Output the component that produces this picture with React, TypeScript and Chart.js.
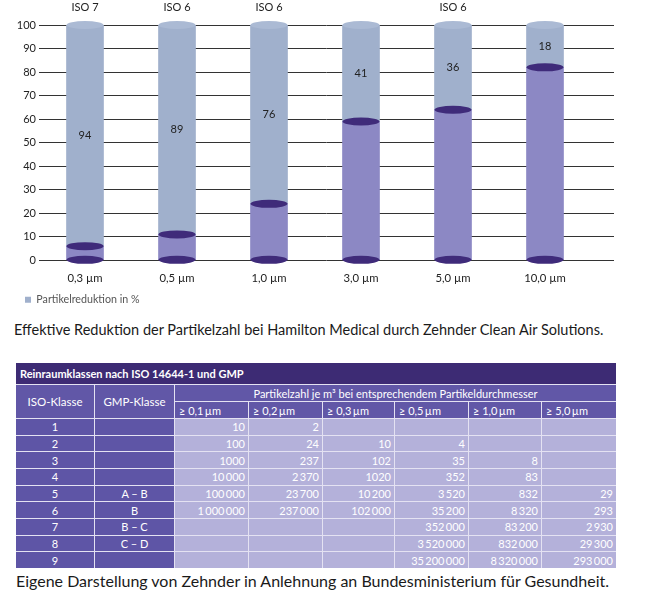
import React, { useEffect, useRef } from 'react';
import { Chart, registerables } from 'chart.js';

Chart.register(...registerables);

const categories = ['0,3 µm', '0,5 µm', '1,0 µm', '3,0 µm', '5,0 µm', '10,0 µm'];
const isoLabels = ['ISO 7', 'ISO 6', 'ISO 6', '', 'ISO 6', ''];
const reduction = [94, 89, 76, 41, 36, 18];
const remaining = [6, 11, 24, 59, 64, 82];
const legendLabel = 'Partikelreduktion in %';

const caption1 = 'Effektive Reduktion der Partikelzahl bei Hamilton Medical durch Zehnder Clean Air Solutions.';
const caption2 = 'Eigene Darstellung von Zehnder in Anlehnung an Bundesministerium für Gesundheit.';

const tableTitle = 'Reinraumklassen nach ISO 14644-1 und GMP';
const headIso = 'ISO-Klasse';
const headGmp = 'GMP-Klasse';
const headSpan = 'Partikelzahl je m³ bei entsprechendem Partikeldurchmesser';
const sizeHeaders = ['≥ 0,1\u2009µm', '≥ 0,2\u2009µm', '≥ 0,3\u2009µm', '≥ 0,5\u2009µm', '≥ 1,0\u2009µm', '≥ 5,0\u2009µm'];
const isoClasses = ['1', '2', '3', '4', '5', '6', '7', '8', '9'];
const gmpClasses = ['', '', '', '', 'A – B', 'B', 'B – C', 'C – D', ''];
const T = '\u2009';
const row1 = ['10', '2', '', '', '', ''];
const row2 = ['100', '24', '10', '4', '', ''];
const row3 = ['1000', '237', '102', '35', '8', ''];
const row4 = [`10${T}000`, `2${T}370`, '1020', '352', '83', ''];
const row5 = [`100${T}000`, `23${T}700`, `10${T}200`, `3${T}520`, '832', '29'];
const row6 = [`1${T}000${T}000`, `237${T}000`, `102${T}000`, `35${T}200`, `8${T}320`, '293'];
const row7 = ['', '', '', `352${T}000`, `83${T}200`, `2${T}930`];
const row8 = ['', '', '', `3${T}520${T}000`, `832${T}000`, `29${T}300`];
const row9 = ['', '', '', `35${T}200${T}000`, `8${T}320${T}000`, `293${T}000`];
const tableRows = [row1, row2, row3, row4, row5, row6, row7, row8, row9];

const BLUE = '#a0b0cc';
const BLUE_TOP = '#abbad4';
const PURPLE = '#8c88c4';
const DARK = '#3f2b7a';

const cylinderPlugin = {
  id: 'cylinder',
  afterDatasetsDraw(chart: any) {
    const ctx = chart.ctx;
    const m0 = chart.getDatasetMeta(0);
    const m1 = chart.getDatasetMeta(1);
    const ell = (x: number, y: number, rx: number, ry: number, color: string) => {
      ctx.beginPath();
      ctx.ellipse(x, y, rx, ry, 0, 0, Math.PI * 2);
      ctx.fillStyle = color;
      ctx.fill();
    };
    ctx.save();
    m1.data.forEach((bar: any) => {
      const p = bar.getProps(['x', 'y', 'width'], true);
      ell(p.x, p.y, p.width / 2, 4, BLUE_TOP);
    });
    m0.data.forEach((bar: any) => {
      const p = bar.getProps(['x', 'y', 'base', 'width'], true);
      ell(p.x, p.base, p.width / 2, 4, DARK);
      ell(p.x, p.y, p.width / 2, 4, DARK);
    });
    ctx.fillStyle = '#222';
    ctx.font = '11px Lato';
    ctx.textAlign = 'center';
    ctx.textBaseline = 'middle';
    m1.data.forEach((bar: any, i: number) => {
      const p = bar.getProps(['x', 'y', 'base'], true);
      ctx.fillText(String(reduction[i]), p.x, (p.y + p.base) / 2);
    });
    const xs = chart.scales.x;
    isoLabels.forEach((t, i) => {
      if (t) ctx.fillText(t, xs.getPixelForValue(i), 7);
    });
    ctx.restore();
  },
};

function ChartPart() {
  const ref = useRef<HTMLCanvasElement>(null);
  useEffect(() => {
    if (!ref.current) return;
    Chart.defaults.font.family = 'Lato';
    const chart = new Chart(ref.current, {
      type: 'bar',
      data: {
        datasets: [
          {
            label: 'Rest',
            data: remaining.map((v, i) => ({ x: i, y: v })),
            backgroundColor: PURPLE,
            borderWidth: 0,
            barThickness: 37,
          },
          {
            label: legendLabel,
            data: reduction.map((v, i) => ({ x: i, y: v })),
            backgroundColor: BLUE,
            borderWidth: 0,
            barThickness: 37,
          },
        ],
      } as any,
      options: {
        animation: false,
        responsive: false,
        devicePixelRatio: 1,
        layout: { padding: { top: 25, left: 15, right: 44, bottom: 0 } },
        scales: {
          x: {
            type: 'linear',
            stacked: true,
            offset: false,
            min: -0.5,
            max: 5.75,
            grid: { display: false, drawTicks: false },
            border: { display: false },
            afterBuildTicks: (scale: any) => {
              scale.ticks = categories.map((_, i) => ({ value: i }));
            },
            afterFit: (scale: any) => {
              scale.height = 24;
            },
            ticks: {
              padding: 11,
              font: { size: 11.3 },
              color: '#222',
              maxRotation: 0,
              autoSkip: false,
              callback: (v: any) => categories[v as number] ?? '',
            },
          },
          y: {
            stacked: true,
            min: 0,
            max: 100,
            afterFit: (scale: any) => {
              scale.width = 24;
            },
            grid: { color: '#333', lineWidth: 1, drawTicks: false },
            border: { display: false },
            ticks: { stepSize: 10, padding: 3, font: { size: 11 }, color: '#222' },
          },
        },
        plugins: {
          legend: {
            position: 'bottom',
            align: 'start',
            labels: {
              boxWidth: 6,
              boxHeight: 6,
              padding: 10,
              font: { size: 10.7 },
              color: '#555',
              filter: (item: any) => item.datasetIndex === 1,
            },
          },
          tooltip: { enabled: false },
        },
      } as any,
      plugins: [cylinderPlugin],
    });
    return () => chart.destroy();
  }, []);
  return (
    <canvas
      ref={ref}
      width={658}
      height={315}
      style={{ position: 'absolute', left: 0, top: 0, width: 658, height: 315 }}
    />
  );
}

const HEAD_BG = '#6157a7';
const LEFT_BG = '#5e55a6';
const CELL_BG = '#b4b1da';

function TablePart() {
  const base: React.CSSProperties = {
    color: '#fff',
    fontSize: 11,
    display: 'flex',
    alignItems: 'center',
    whiteSpace: 'nowrap',
    overflow: 'hidden',
  };
  const cells: React.ReactNode[] = [];
  cells.push(
    <div key="title" style={{ ...base, gridColumn: '1 / 9', gridRow: 1, background: '#3d2b74', fontWeight: 700, paddingLeft: 4, fontSize: 11 }}>
      {tableTitle}
    </div>
  );
  cells.push(
    <div key="hiso" style={{ ...base, gridColumn: 1, gridRow: '2 / 4', background: HEAD_BG, justifyContent: 'center', fontSize: 11.5 }}>
      {headIso}
    </div>
  );
  cells.push(
    <div key="hgmp" style={{ ...base, gridColumn: 2, gridRow: '2 / 4', background: HEAD_BG, justifyContent: 'center', fontSize: 11.5 }}>
      {headGmp}
    </div>
  );
  cells.push(
    <div key="hspan" style={{ ...base, gridColumn: '3 / 9', gridRow: 2, background: HEAD_BG, justifyContent: 'center' }}>
      {headSpan}
    </div>
  );
  sizeHeaders.forEach((h, i) => {
    cells.push(
      <div key={'sh' + i} style={{ ...base, gridColumn: i + 3, gridRow: 3, background: HEAD_BG, paddingLeft: 4 }}>
        {h}
      </div>
    );
  });
  tableRows.forEach((r, ri) => {
    cells.push(
      <div key={'iso' + ri} style={{ ...base, gridColumn: 1, gridRow: ri + 4, background: LEFT_BG, justifyContent: 'center' }}>
        {isoClasses[ri]}
      </div>
    );
    cells.push(
      <div key={'gmp' + ri} style={{ ...base, gridColumn: 2, gridRow: ri + 4, background: LEFT_BG, justifyContent: 'center' }}>
        {gmpClasses[ri]}
      </div>
    );
    r.forEach((v, ci) => {
      cells.push(
        <div key={'c' + ri + '_' + ci} style={{ ...base, gridColumn: ci + 3, gridRow: ri + 4, background: CELL_BG, justifyContent: 'flex-end', paddingRight: 3 }}>
          {v}
        </div>
      );
    });
  });
  return (
    <div
      style={{
        position: 'absolute',
        left: 16,
        top: 363,
        width: 600,
        display: 'grid',
        gridTemplateColumns: '78px 79px 73px 73px 71px 73px 72px 74px',
        gridTemplateRows: '21px 16px 16px repeat(9, 15.67px)',
        gap: 1,
        background: '#e4e2f2',
        fontFamily: 'Lato',
      }}
    >
      {cells}
    </div>
  );
}

export default function App() {
  return (
    <div style={{ position: 'absolute', left: 0, top: 0, width: 658, height: 600, background: '#fff', fontFamily: 'Lato', overflow: 'hidden' }}>
      <ChartPart />
      <div style={{ position: 'absolute', left: 14, top: 321, fontSize: 14.5, lineHeight: '18px', color: '#1a1a1a', whiteSpace: 'nowrap' }}>
        {caption1}
      </div>
      <TablePart />
      <div style={{ position: 'absolute', left: 16, top: 572, fontSize: 16, lineHeight: '18px', color: '#1a1a1a', whiteSpace: 'nowrap' }}>
        {caption2}
      </div>
    </div>
  );
}
